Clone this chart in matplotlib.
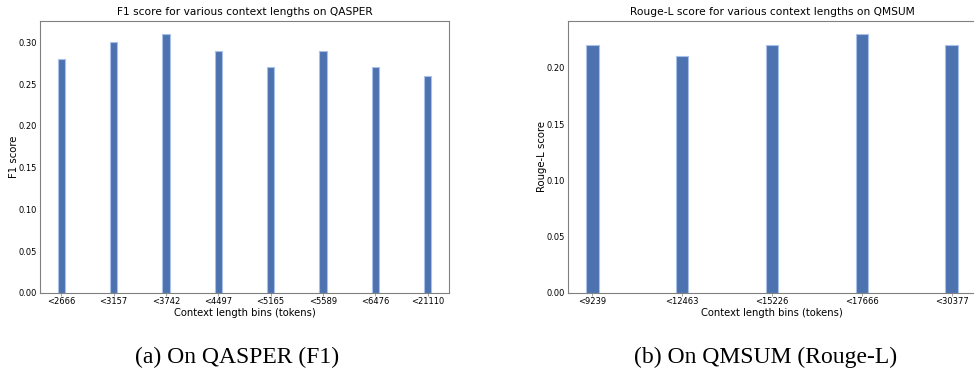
import matplotlib
matplotlib.use("Agg")
import matplotlib.pyplot as plt
import numpy as np

# QASPER results (F1)
qasper_bins = ["<2666", "<3157", "<3742", "<4497", "<5165", "<5589", "<6476", "<21110"]
qasper_f1 = [0.28, 0.30, 0.31, 0.29, 0.27, 0.29, 0.27, 0.26]

# QMSUM results (Rouge-L)
qmsum_bins = ["<9239", "<12463", "<15226", "<17666", "<30377"]
qmsum_rouge = [0.22, 0.21, 0.22, 0.23, 0.22]

BAR = "#4C72B0"
EDGE = "#a9c0e8"
SPINE = "#808080"

fig = plt.figure(figsize=(9.74, 3.69), dpi=100)
W, H = 974, 369


def add_axes(px_left, px_right, px_top, px_bottom):
    return fig.add_axes([px_left / W, 1 - px_bottom / H,
                         (px_right - px_left) / W, (px_bottom - px_top) / H])


def draw(ax, labels, values, title, ylabel, xlim):
    x = np.arange(len(values))
    ax.bar(x, values, width=0.14, color=BAR, edgecolor=EDGE, linewidth=0.8)
    ax.set_xticks(x)
    ax.set_xticklabels(labels, fontsize=6)
    ax.tick_params(axis="y", labelsize=6, length=0, pad=2)
    ax.tick_params(axis="x", length=2, width=0.5, pad=1, color=SPINE)
    ax.set_xlim(*xlim)
    ax.set_ylim(0, max(values) * 1.05)
    for s in ax.spines.values():
        s.set_color(SPINE)
        s.set_linewidth(0.8)
    ax.set_title(title, fontsize=7.7, pad=4)
    ax.set_ylabel(ylabel, fontsize=7.3, labelpad=0)
    ax.set_xlabel("Context length bins (tokens)", fontsize=7.2, labelpad=1)


ax1 = add_axes(40, 449, 21, 293)
draw(ax1, qasper_bins, qasper_f1, "F1 score for various context lengths on QASPER",
     "F1 score", (-0.41, 7.41))
ax1.set_yticks([0.0, 0.05, 0.10, 0.15, 0.20, 0.25, 0.30])
ax1.set_yticklabels([f"{v:.2f}" for v in ax1.get_yticks()])

ax2 = add_axes(568, 976, 21, 293)
draw(ax2, qmsum_bins, qmsum_rouge, "Rouge-L score for various context lengths on QMSUM",
     "Rouge-L score", (-0.27, 4.27))
ax2.set_yticks([0.0, 0.05, 0.10, 0.15, 0.20])
ax2.set_yticklabels([f"{v:.2f}" for v in ax2.get_yticks()])

cap_font = dict(family=["Liberation Serif", "DejaVu Serif"], fontsize=17,
                ha="center", va="center")
fig.text(237 / W, 1 - 357 / H, "(a) On QASPER (F1)", **cap_font)
fig.text(766 / W, 1 - 357 / H, "(b) On QMSUM (Rouge-L)", **cap_font)

fig.savefig("out.png", dpi=100)
